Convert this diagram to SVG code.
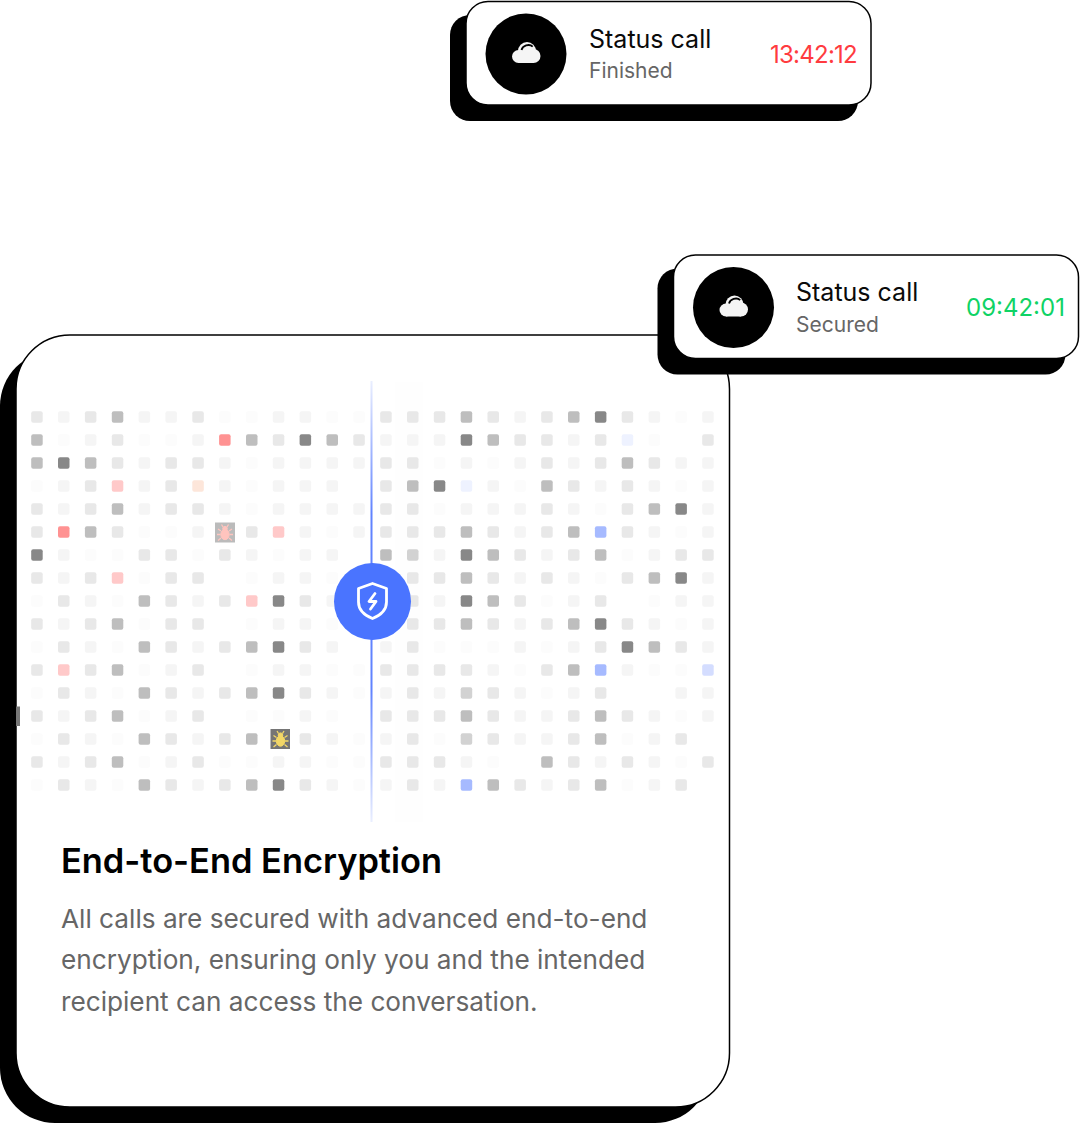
<svg xmlns="http://www.w3.org/2000/svg" width="1080" height="1123" viewBox="0 0 1080 1123">
<style>
.a{fill:#fcfcfc}.b{fill:#f5f5f5}.c{fill:#e8e8e8}.d{fill:#bebebe}.e{fill:#888}.f{fill:#d2d2d2}
.r{fill:#ff9292}.p{fill:#ffc9c9}.o{fill:#fde6da}.l{fill:#a6baff}.m{fill:#d4ddff}.n{fill:#eef2ff}
.t1{font:400 25px Inter,"Liberation Sans",sans-serif;fill:#0a0a0a}
.t2{font:400 21px Inter,"Liberation Sans",sans-serif;fill:#666}
.t3{font:400 24px Inter,"Liberation Sans",sans-serif}
.h{font:600 34.4px Inter,"Liberation Sans",sans-serif;fill:#000}
.bd{font:400 26.2px Inter,"Liberation Sans",sans-serif;fill:#666}
</style>
<defs>
<rect id="k" width="11.5" height="11.5" rx="2"/>
<linearGradient id="lg" x1="0" y1="0" x2="0" y2="1">
<stop offset="0" stop-color="#4f75ff" stop-opacity=".12"/><stop offset=".3" stop-color="#4f75ff" stop-opacity=".9"/><stop offset=".7" stop-color="#4f75ff" stop-opacity=".9"/><stop offset="1" stop-color="#4f75ff" stop-opacity=".12"/>
</linearGradient>
<g id="cloud"><g fill="#f5f5f5"><circle cx="-7.500" cy="2.500" r="6.500"/><circle cx="1" cy="-3" r="9"/><circle cx="7.500" cy="2" r="7"/><rect x="-7.500" y="1" width="15" height="8"/></g><path d="M-4.500-4C-3.500-8 3-11 6.700-7.300" fill="none" stroke="#000" stroke-width="1.800"/></g>
<g id="bug"><ellipse cx="0" cy="1.500" rx="4.200" ry="5.200"/><circle cx="0" cy="-4.300" r="2.300"/><path d="M-2-6l-1.500-2.500M2-6l1.500-2.500M-4-2l-3-2M4-2l3-2M-4.500 1.500H-8M4.500 1.500H8M-4 5l-3 2.500M4 5l3 2.500" fill="none" stroke-width="1.300"/></g>
</defs>
<g id="main-card">
<rect x="0" y="351" width="710" height="772" rx="55" fill="#000"/>
<rect x="16" y="335" width="713.500" height="772" rx="54" fill="#fff" stroke="#000" stroke-width="1.500"/>
<rect x="16" y="706.500" width="4" height="19.500" fill="#777"/>
</g>
<g id="dot-grid">
<rect x="395" y="382" width="28" height="440" fill="#fefefe"/>
<g transform="translate(0 411.2)"><use href="#k" class="c" x="31.2"/><use href="#k" class="b" x="58"/><use href="#k" class="c" x="84.9"/><use href="#k" class="d" x="111.8"/><use href="#k" class="b" x="138.6"/><use href="#k" class="b" x="165.4"/><use href="#k" class="c" x="192.3"/><use href="#k" class="a" x="219.1"/><use href="#k" class="a" x="246"/><use href="#k" class="b" x="272.8"/><use href="#k" class="b" x="299.6"/><use href="#k" class="a" x="326.5"/><use href="#k" class="a" x="353.3"/><use href="#k" class="c" x="380.2"/><use href="#k" class="c" x="407"/><use href="#k" class="c" x="433.8"/><use href="#k" class="d" x="460.7"/><use href="#k" class="c" x="487.5"/><use href="#k" class="b" x="514.4"/><use href="#k" class="c" x="541.2"/><use href="#k" class="d" x="568"/><use href="#k" class="e" x="594.9"/><use href="#k" class="c" x="621.7"/><use href="#k" class="b" x="648.6"/><use href="#k" class="a" x="675.4"/><use href="#k" class="b" x="702.2"/></g>
<g transform="translate(0 434.2)"><use href="#k" class="d" x="31.2"/><use href="#k" class="a" x="58"/><use href="#k" class="b" x="84.9"/><use href="#k" class="c" x="111.8"/><use href="#k" class="a" x="138.6"/><use href="#k" class="a" x="165.4"/><use href="#k" class="b" x="192.3"/><use href="#k" class="r" x="219.1"/><use href="#k" class="d" x="246"/><use href="#k" class="c" x="272.8"/><use href="#k" class="e" x="299.6"/><use href="#k" class="d" x="326.5"/><use href="#k" class="c" x="353.3"/><use href="#k" class="b" x="380.2"/><use href="#k" class="b" x="407"/><use href="#k" class="b" x="433.8"/><use href="#k" class="e" x="460.7"/><use href="#k" class="d" x="487.5"/><use href="#k" class="c" x="514.4"/><use href="#k" class="c" x="541.2"/><use href="#k" class="b" x="568"/><use href="#k" class="c" x="594.9"/><use href="#k" class="n" x="621.7"/><use href="#k" class="a" x="648.6"/><use href="#k" class="c" x="702.2"/></g>
<g transform="translate(0 457.2)"><use href="#k" class="d" x="31.2"/><use href="#k" class="e" x="58"/><use href="#k" class="d" x="84.9"/><use href="#k" class="c" x="111.8"/><use href="#k" class="b" x="138.6"/><use href="#k" class="c" x="165.4"/><use href="#k" class="c" x="192.3"/><use href="#k" class="b" x="219.1"/><use href="#k" class="a" x="246"/><use href="#k" class="b" x="272.8"/><use href="#k" class="b" x="299.6"/><use href="#k" class="b" x="326.5"/><use href="#k" class="b" x="353.3"/><use href="#k" class="c" x="380.2"/><use href="#k" class="c" x="407"/><use href="#k" class="a" x="433.8"/><use href="#k" class="b" x="460.7"/><use href="#k" class="a" x="487.5"/><use href="#k" class="b" x="514.4"/><use href="#k" class="c" x="541.2"/><use href="#k" class="b" x="568"/><use href="#k" class="c" x="594.9"/><use href="#k" class="d" x="621.7"/><use href="#k" class="c" x="648.6"/><use href="#k" class="b" x="675.4"/><use href="#k" class="b" x="702.2"/></g>
<g transform="translate(0 480.2)"><use href="#k" class="a" x="31.2"/><use href="#k" class="b" x="58"/><use href="#k" class="c" x="84.9"/><use href="#k" class="p" x="111.8"/><use href="#k" class="b" x="138.6"/><use href="#k" class="c" x="165.4"/><use href="#k" class="o" x="192.3"/><use href="#k" class="b" x="219.1"/><use href="#k" class="a" x="246"/><use href="#k" class="b" x="272.8"/><use href="#k" class="b" x="299.6"/><use href="#k" class="b" x="326.5"/><use href="#k" class="c" x="380.2"/><use href="#k" class="d" x="407"/><use href="#k" class="e" x="433.8"/><use href="#k" class="n" x="460.7"/><use href="#k" class="b" x="487.5"/><use href="#k" class="a" x="514.4"/><use href="#k" class="d" x="541.2"/><use href="#k" class="c" x="568"/><use href="#k" class="b" x="594.9"/><use href="#k" class="c" x="621.7"/><use href="#k" class="b" x="648.6"/><use href="#k" class="a" x="675.4"/><use href="#k" class="b" x="702.2"/></g>
<g transform="translate(0 503.2)"><use href="#k" class="c" x="31.2"/><use href="#k" class="b" x="58"/><use href="#k" class="c" x="84.9"/><use href="#k" class="d" x="111.8"/><use href="#k" class="b" x="138.6"/><use href="#k" class="c" x="165.4"/><use href="#k" class="c" x="192.3"/><use href="#k" class="b" x="219.1"/><use href="#k" class="a" x="246"/><use href="#k" class="b" x="272.8"/><use href="#k" class="b" x="299.6"/><use href="#k" class="b" x="326.5"/><use href="#k" class="b" x="353.3"/><use href="#k" class="c" x="380.2"/><use href="#k" class="c" x="407"/><use href="#k" class="a" x="433.8"/><use href="#k" class="b" x="460.7"/><use href="#k" class="b" x="487.5"/><use href="#k" class="b" x="514.4"/><use href="#k" class="c" x="541.2"/><use href="#k" class="b" x="568"/><use href="#k" class="a" x="594.9"/><use href="#k" class="c" x="621.7"/><use href="#k" class="d" x="648.6"/><use href="#k" class="e" x="675.4"/><use href="#k" class="b" x="702.2"/></g>
<g transform="translate(0 526.2)"><use href="#k" class="c" x="31.2"/><use href="#k" class="r" x="58"/><use href="#k" class="d" x="84.9"/><use href="#k" class="c" x="111.8"/><use href="#k" class="a" x="138.6"/><use href="#k" class="a" x="165.4"/><use href="#k" class="b" x="192.3"/><use href="#k" class="c" x="246"/><use href="#k" class="p" x="272.8"/><use href="#k" class="b" x="299.6"/><use href="#k" class="a" x="326.5"/><use href="#k" class="b" x="353.3"/><use href="#k" class="c" x="380.2"/><use href="#k" class="c" x="407"/><use href="#k" class="c" x="433.8"/><use href="#k" class="d" x="460.7"/><use href="#k" class="c" x="487.5"/><use href="#k" class="b" x="514.4"/><use href="#k" class="c" x="541.2"/><use href="#k" class="d" x="568"/><use href="#k" class="l" x="594.9"/><use href="#k" class="c" x="621.7"/><use href="#k" class="b" x="648.6"/><use href="#k" class="a" x="675.4"/><use href="#k" class="b" x="702.2"/></g>
<g transform="translate(0 549.2)"><use href="#k" class="e" x="31.2"/><use href="#k" class="b" x="58"/><use href="#k" class="a" x="84.9"/><use href="#k" class="a" x="111.8"/><use href="#k" class="c" x="138.6"/><use href="#k" class="c" x="165.4"/><use href="#k" class="a" x="192.3"/><use href="#k" class="c" x="219.1"/><use href="#k" class="b" x="246"/><use href="#k" class="a" x="272.8"/><use href="#k" class="b" x="299.6"/><use href="#k" class="b" x="326.5"/><use href="#k" class="d" x="380.2"/><use href="#k" class="f" x="407"/><use href="#k" class="b" x="433.8"/><use href="#k" class="e" x="460.7"/><use href="#k" class="d" x="487.5"/><use href="#k" class="c" x="514.4"/><use href="#k" class="b" x="541.2"/><use href="#k" class="c" x="568"/><use href="#k" class="d" x="594.9"/><use href="#k" class="a" x="621.7"/><use href="#k" class="b" x="648.6"/><use href="#k" class="c" x="675.4"/><use href="#k" class="c" x="702.2"/></g>
<g transform="translate(0 572.2)"><use href="#k" class="c" x="31.2"/><use href="#k" class="b" x="58"/><use href="#k" class="c" x="84.9"/><use href="#k" class="p" x="111.8"/><use href="#k" class="a" x="138.6"/><use href="#k" class="c" x="165.4"/><use href="#k" class="c" x="192.3"/><use href="#k" class="a" x="246"/><use href="#k" class="b" x="272.8"/><use href="#k" class="b" x="299.6"/><use href="#k" class="a" x="326.5"/><use href="#k" class="c" x="407"/><use href="#k" class="c" x="433.8"/><use href="#k" class="d" x="460.7"/><use href="#k" class="c" x="487.5"/><use href="#k" class="b" x="514.4"/><use href="#k" class="c" x="541.2"/><use href="#k" class="b" x="568"/><use href="#k" class="a" x="594.9"/><use href="#k" class="c" x="621.7"/><use href="#k" class="d" x="648.6"/><use href="#k" class="e" x="675.4"/><use href="#k" class="b" x="702.2"/></g>
<g transform="translate(0 595.2)"><use href="#k" class="a" x="31.2"/><use href="#k" class="c" x="58"/><use href="#k" class="b" x="84.9"/><use href="#k" class="a" x="111.8"/><use href="#k" class="d" x="138.6"/><use href="#k" class="c" x="165.4"/><use href="#k" class="b" x="192.3"/><use href="#k" class="c" x="219.1"/><use href="#k" class="p" x="246"/><use href="#k" class="e" x="272.8"/><use href="#k" class="c" x="299.6"/><use href="#k" class="b" x="326.5"/><use href="#k" class="c" x="407"/><use href="#k" class="b" x="433.8"/><use href="#k" class="e" x="460.7"/><use href="#k" class="d" x="487.5"/><use href="#k" class="c" x="514.4"/><use href="#k" class="a" x="541.2"/><use href="#k" class="b" x="568"/><use href="#k" class="c" x="594.9"/><use href="#k" class="a" x="648.6"/><use href="#k" class="b" x="675.4"/><use href="#k" class="b" x="702.2"/></g>
<g transform="translate(0 618.2)"><use href="#k" class="c" x="31.2"/><use href="#k" class="b" x="58"/><use href="#k" class="c" x="84.9"/><use href="#k" class="d" x="111.8"/><use href="#k" class="a" x="138.6"/><use href="#k" class="c" x="165.4"/><use href="#k" class="c" x="192.3"/><use href="#k" class="a" x="246"/><use href="#k" class="b" x="272.8"/><use href="#k" class="b" x="299.6"/><use href="#k" class="a" x="326.5"/><use href="#k" class="c" x="407"/><use href="#k" class="c" x="433.8"/><use href="#k" class="d" x="460.7"/><use href="#k" class="c" x="487.5"/><use href="#k" class="b" x="514.4"/><use href="#k" class="c" x="541.2"/><use href="#k" class="d" x="568"/><use href="#k" class="e" x="594.9"/><use href="#k" class="c" x="621.7"/><use href="#k" class="b" x="648.6"/><use href="#k" class="a" x="675.4"/><use href="#k" class="b" x="702.2"/></g>
<g transform="translate(0 641.2)"><use href="#k" class="a" x="31.2"/><use href="#k" class="c" x="58"/><use href="#k" class="b" x="84.9"/><use href="#k" class="a" x="111.8"/><use href="#k" class="d" x="138.6"/><use href="#k" class="c" x="165.4"/><use href="#k" class="b" x="192.3"/><use href="#k" class="c" x="219.1"/><use href="#k" class="d" x="246"/><use href="#k" class="e" x="272.8"/><use href="#k" class="c" x="299.6"/><use href="#k" class="b" x="326.5"/><use href="#k" class="b" x="380.2"/><use href="#k" class="c" x="407"/><use href="#k" class="a" x="433.8"/><use href="#k" class="a" x="460.7"/><use href="#k" class="a" x="487.5"/><use href="#k" class="b" x="514.4"/><use href="#k" class="a" x="541.2"/><use href="#k" class="b" x="568"/><use href="#k" class="c" x="594.9"/><use href="#k" class="e" x="621.7"/><use href="#k" class="d" x="648.6"/><use href="#k" class="c" x="675.4"/><use href="#k" class="b" x="702.2"/></g>
<g transform="translate(0 664.2)"><use href="#k" class="c" x="31.2"/><use href="#k" class="p" x="58"/><use href="#k" class="c" x="84.9"/><use href="#k" class="d" x="111.8"/><use href="#k" class="a" x="138.6"/><use href="#k" class="b" x="165.4"/><use href="#k" class="c" x="192.3"/><use href="#k" class="a" x="246"/><use href="#k" class="b" x="272.8"/><use href="#k" class="b" x="299.6"/><use href="#k" class="a" x="326.5"/><use href="#k" class="a" x="353.3"/><use href="#k" class="c" x="380.2"/><use href="#k" class="c" x="407"/><use href="#k" class="c" x="433.8"/><use href="#k" class="c" x="460.7"/><use href="#k" class="b" x="487.5"/><use href="#k" class="a" x="514.4"/><use href="#k" class="c" x="541.2"/><use href="#k" class="d" x="568"/><use href="#k" class="l" x="594.9"/><use href="#k" class="b" x="621.7"/><use href="#k" class="a" x="648.6"/><use href="#k" class="a" x="675.4"/><use href="#k" class="m" x="702.2"/></g>
<g transform="translate(0 687.2)"><use href="#k" class="a" x="31.2"/><use href="#k" class="c" x="58"/><use href="#k" class="b" x="84.9"/><use href="#k" class="a" x="111.8"/><use href="#k" class="d" x="138.6"/><use href="#k" class="c" x="165.4"/><use href="#k" class="b" x="192.3"/><use href="#k" class="c" x="219.1"/><use href="#k" class="d" x="246"/><use href="#k" class="e" x="272.8"/><use href="#k" class="c" x="299.6"/><use href="#k" class="b" x="326.5"/><use href="#k" class="a" x="353.3"/><use href="#k" class="b" x="380.2"/><use href="#k" class="c" x="407"/><use href="#k" class="b" x="433.8"/><use href="#k" class="f" x="460.7"/><use href="#k" class="c" x="487.5"/><use href="#k" class="b" x="514.4"/><use href="#k" class="a" x="541.2"/><use href="#k" class="b" x="568"/><use href="#k" class="c" x="594.9"/><use href="#k" class="b" x="675.4"/><use href="#k" class="b" x="702.2"/></g>
<g transform="translate(0 710.2)"><use href="#k" class="c" x="31.2"/><use href="#k" class="b" x="58"/><use href="#k" class="c" x="84.9"/><use href="#k" class="d" x="111.8"/><use href="#k" class="a" x="138.6"/><use href="#k" class="b" x="165.4"/><use href="#k" class="c" x="192.3"/><use href="#k" class="a" x="246"/><use href="#k" class="a" x="272.8"/><use href="#k" class="b" x="299.6"/><use href="#k" class="a" x="326.5"/><use href="#k" class="c" x="380.2"/><use href="#k" class="c" x="407"/><use href="#k" class="c" x="433.8"/><use href="#k" class="d" x="460.7"/><use href="#k" class="c" x="487.5"/><use href="#k" class="b" x="514.4"/><use href="#k" class="b" x="541.2"/><use href="#k" class="c" x="568"/><use href="#k" class="d" x="594.9"/><use href="#k" class="c" x="621.7"/><use href="#k" class="b" x="648.6"/><use href="#k" class="a" x="675.4"/><use href="#k" class="b" x="702.2"/></g>
<g transform="translate(0 733.2)"><use href="#k" class="a" x="31.2"/><use href="#k" class="c" x="58"/><use href="#k" class="b" x="84.9"/><use href="#k" class="a" x="111.8"/><use href="#k" class="d" x="138.6"/><use href="#k" class="c" x="165.4"/><use href="#k" class="b" x="192.3"/><use href="#k" class="c" x="219.1"/><use href="#k" class="d" x="246"/><use href="#k" class="c" x="299.6"/><use href="#k" class="b" x="326.5"/><use href="#k" class="a" x="353.3"/><use href="#k" class="b" x="380.2"/><use href="#k" class="c" x="407"/><use href="#k" class="a" x="433.8"/><use href="#k" class="f" x="460.7"/><use href="#k" class="c" x="487.5"/><use href="#k" class="b" x="514.4"/><use href="#k" class="b" x="541.2"/><use href="#k" class="c" x="568"/><use href="#k" class="d" x="594.9"/><use href="#k" class="a" x="621.7"/><use href="#k" class="b" x="648.6"/><use href="#k" class="c" x="675.4"/></g>
<g transform="translate(0 756.2)"><use href="#k" class="c" x="31.2"/><use href="#k" class="b" x="58"/><use href="#k" class="c" x="84.9"/><use href="#k" class="d" x="111.8"/><use href="#k" class="a" x="138.6"/><use href="#k" class="b" x="165.4"/><use href="#k" class="c" x="192.3"/><use href="#k" class="a" x="219.1"/><use href="#k" class="a" x="246"/><use href="#k" class="b" x="272.8"/><use href="#k" class="b" x="299.6"/><use href="#k" class="a" x="326.5"/><use href="#k" class="a" x="353.3"/><use href="#k" class="c" x="380.2"/><use href="#k" class="c" x="407"/><use href="#k" class="c" x="433.8"/><use href="#k" class="b" x="460.7"/><use href="#k" class="a" x="487.5"/><use href="#k" class="d" x="541.2"/><use href="#k" class="c" x="568"/><use href="#k" class="b" x="594.9"/><use href="#k" class="c" x="621.7"/><use href="#k" class="b" x="648.6"/><use href="#k" class="a" x="675.4"/><use href="#k" class="c" x="702.2"/></g>
<g transform="translate(0 779.2)"><use href="#k" class="a" x="31.2"/><use href="#k" class="c" x="58"/><use href="#k" class="b" x="84.9"/><use href="#k" class="a" x="111.8"/><use href="#k" class="d" x="138.6"/><use href="#k" class="c" x="165.4"/><use href="#k" class="b" x="192.3"/><use href="#k" class="c" x="219.1"/><use href="#k" class="d" x="246"/><use href="#k" class="e" x="272.8"/><use href="#k" class="c" x="299.6"/><use href="#k" class="b" x="326.5"/><use href="#k" class="a" x="353.3"/><use href="#k" class="b" x="380.2"/><use href="#k" class="c" x="407"/><use href="#k" class="b" x="433.8"/><use href="#k" class="l" x="460.7"/><use href="#k" class="d" x="487.5"/><use href="#k" class="c" x="514.4"/><use href="#k" class="b" x="541.2"/><use href="#k" class="c" x="568"/><use href="#k" class="d" x="594.9"/><use href="#k" class="a" x="621.7"/><use href="#k" class="b" x="648.6"/><use href="#k" class="c" x="675.4"/></g>
</g>
<g id="bug-pink"><rect x="215" y="522.500" width="20" height="20" fill="#bbb"/><use href="#bug" transform="translate(225 533)" fill="#ffc4be" stroke="#ffc4be"/></g>
<g id="bug-yellow"><rect x="270.500" y="729" width="19.500" height="20" fill="#757575"/><use href="#bug" transform="translate(280.500 739.500)" fill="#f3d766" stroke="#f3d766"/></g>
<g id="connectors"><rect x="370.500" y="381" width="2" height="441" fill="url(#lg)"/></g>
<g id="shield-node">
<circle cx="372.500" cy="601.500" r="38.500" fill="#4a74ff"/>
<path d="M372.500 583.500L386.500 588.500V602C386.500 610 380 615.500 372.500 618.500C365 615.500 358.500 610 358.500 602V588.500Z" fill="none" stroke="#fff" stroke-width="2.800" stroke-linejoin="round"/>
<path d="M375 593.500L369 601.500H376L370.500 609" fill="none" stroke="#fff" stroke-width="2.800" stroke-linecap="round" stroke-linejoin="round"/>
</g>
<g id="card-text">
<text class="h" x="61" y="873">End-to-End Encryption</text>
<text class="bd" x="61" y="928">All calls are secured with advanced end-to-end</text>
<text class="bd" x="61" y="969">encryption, ensuring only you and the intended</text>
<text class="bd" x="61" y="1011">recipient can access the conversation.</text>
</g>
<g id="status-finished">
<rect x="450" y="15" width="408" height="106" rx="20" fill="#000"/>
<rect x="466" y="1.500" width="405" height="103.500" rx="22" fill="#fff" stroke="#000" stroke-width="1.500"/>
<circle cx="526" cy="54" r="40.500" fill="#000"/>
<use href="#cloud" transform="translate(526 54)"/>
<text class="t1" x="589" y="48">Status call</text>
<text class="t2" x="589" y="78">Finished</text>
<text class="t3" x="770" y="63" fill="#ff3b3f" letter-spacing="-.75">13:42:12</text>
</g>
<g id="status-secured">
<rect x="657.500" y="268.500" width="408" height="106" rx="20" fill="#000"/>
<rect x="673.500" y="255" width="405" height="103.500" rx="22" fill="#fff" stroke="#000" stroke-width="1.500"/>
<circle cx="733.500" cy="307.500" r="40.500" fill="#000"/>
<use href="#cloud" transform="translate(733.500 307.500)"/>
<text class="t1" x="796" y="301">Status call</text>
<text class="t2" x="796" y="332">Secured</text>
<text class="t3" x="966" y="316" fill="#0fd365">09:42:01</text>
</g>
</svg>
